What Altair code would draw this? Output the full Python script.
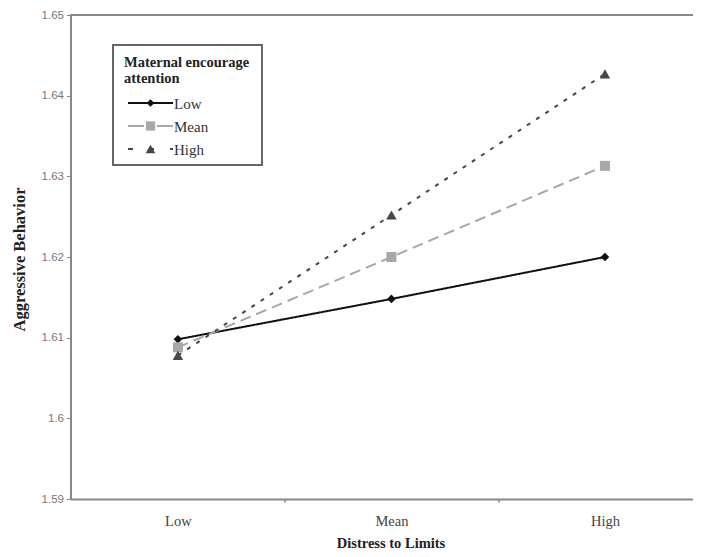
import altair as alt
import pandas as pd

# ---- data ----
categories = ["Low", "Mean", "High"]          # Distress to Limits
series = ["Low", "Mean", "High"]              # Maternal encourage attention
low_vals = [1.6098, 1.6148, 1.6200]
mean_vals = [1.6088, 1.6200, 1.6313]
high_vals = [1.6078, 1.6252, 1.6427]
y_ticks = [1.59, 1.60, 1.61, 1.62, 1.63, 1.64, 1.65]
legend_title = ["Maternal encourage", "attention"]

colors = ["#111111", "#a8a8a8", "#474747"]
dashes = [[1, 0], [11, 6], [4, 7]]
legend_dashes = [[1, 0], [16, 13], [5, 16]]
shapes = ["diamond", "square", "triangle-up"]
marker_sizes = [75, 100, 110]

rows = []
for s, vals in zip(series, [low_vals, mean_vals, high_vals]):
    for i, (c, v) in enumerate(zip(categories, vals)):
        rows.append({"series": s, "cat": c, "idx": i, "value": v})
df = pd.DataFrame(rows)

label_expr = " : ".join(
    [f"datum.value == {i} ? '{c}'" for i, c in enumerate(categories)] + ["''"]
)

W, H = 622, 484

x_enc = alt.X(
    "idx:Q",
    scale=alt.Scale(domain=[-0.503, 2.41], nice=False, zero=False),
    axis=alt.Axis(
        values=[0, 0.5, 1, 1.5, 2],
        labelExpr=label_expr,
        tickOpacity={"condition": {"test": "datum.value % 1 == 0", "value": 0}, "value": 1},
        tickSize=3,
        tickColor="#888888",
        tickWidth=1.5,
        labelPadding=12,
        labelFont="Liberation Serif",
        labelFontSize=14.5,
        labelColor="#444444",
        domainColor="#888888",
        domainWidth=2,
        grid=False,
        title="Distress to Limits",
        titleFont="Liberation Serif",
        titleFontWeight="bold",
        titleFontSize=14.5,
        titleColor="#222222",
        titleX=320,
        titleY=44,
        titleBaseline="middle",
        titleAnchor="middle",
    ),
)
y_enc = alt.Y(
    "value:Q",
    scale=alt.Scale(domain=[1.59, 1.65], nice=False, zero=False),
    axis=alt.Axis(
        values=y_ticks,
        format=".2~f",
        tickSize=4,
        tickColor="#888888",
        labelPadding=3,
        labelFont="Liberation Sans",
        labelFontSize=11.5,
        labelColor="#777777",
        domainColor="#888888",
        domainWidth=2,
        grid=False,
        title="Aggressive Behavior",
        titleFont="Liberation Serif",
        titleFontWeight="bold",
        titleFontSize=16.5,
        titleColor="#222222",
        titleAngle=270,
        titleX=-46,
        titleY=244,
        titleBaseline="alphabetic",
        titleAnchor="middle",
    ),
)

col_scale = alt.Scale(domain=series, range=colors)

lines = alt.Chart(df).mark_line(strokeWidth=2).encode(
    x=x_enc,
    y=y_enc,
    color=alt.Color("series:N", scale=col_scale, legend=None),
    strokeDash=alt.StrokeDash("series:N", scale=alt.Scale(domain=series, range=dashes), legend=None),
    detail="series:N",
)

point_layers = []
for s, shp, sz in zip(series, shapes, marker_sizes):
    point_layers.append(
        alt.Chart(df)
        .transform_filter(alt.datum.series == s)
        .mark_point(filled=True, opacity=1, shape=shp, size=sz)
        .encode(
            x="idx:Q",
            y="value:Q",
            color=alt.Color("series:N", scale=col_scale, legend=None),
        )
    )

top_border = alt.Chart(df).mark_rule(color="#888888", strokeWidth=2).encode(
    y=alt.datum(1.65),
    x=alt.value(0),
    x2=alt.value(W),
)

# ---- legend (drawn as a boxed key inside the plot) ----
LX, LY, LW, LH = 42.5, 30, 149, 120
SYM_X0, SYM_X1, LAB_X = LX + 15, LX + 60, LX + 61
ROW_Y0, ROW_STEP = LY + 58, 23

legend_layers = [
    alt.Chart(pd.DataFrame({"k": [0]})).mark_rect(
        fill="white", stroke="#666666", strokeWidth=2
    ).encode(
        x=alt.value(LX), x2=alt.value(LX + LW), y=alt.value(LY), y2=alt.value(LY + LH)
    ),
    alt.Chart(pd.DataFrame({"k": [0]})).mark_text(
        text=legend_title, align="left", baseline="top", lineHeight=16,
        font="Liberation Serif", fontWeight="bold", fontSize=14.5, color="#222222",
    ).encode(x=alt.value(LX + 11), y=alt.value(LY + 11)),
]
for i, s in enumerate(series):
    ry = ROW_Y0 + i * ROW_STEP
    item = pd.DataFrame({"series": [s]})
    legend_layers += [
        alt.Chart(item).mark_rule(
            color=colors[i], strokeWidth=2, strokeDash=legend_dashes[i]
        ).encode(x=alt.value(SYM_X0), x2=alt.value(SYM_X1), y=alt.value(ry)),
        alt.Chart(item).mark_point(
            filled=True, opacity=1, shape=shapes[i], size=marker_sizes[i] - 15, color=colors[i]
        ).encode(x=alt.value((SYM_X0 + SYM_X1) / 2), y=alt.value(ry)),
        alt.Chart(item).mark_text(
            align="left", baseline="middle", font="Liberation Serif", fontSize=15, color="#333333"
        ).encode(x=alt.value(LAB_X), y=alt.value(ry + 1), text="series:N"),
    ]

chart = (
    alt.layer(top_border, lines, *point_layers, *legend_layers)
    .properties(
        width=W,
        height=H,
        background="white",
        autosize=alt.AutoSizeParams(type="none"),
        padding={"left": 62.5, "top": 7, "right": 0, "bottom": 50},
    )
    .configure_view(strokeWidth=0)
)

chart.save("out.html", embed_options={"renderer": "svg", "actions": False})
